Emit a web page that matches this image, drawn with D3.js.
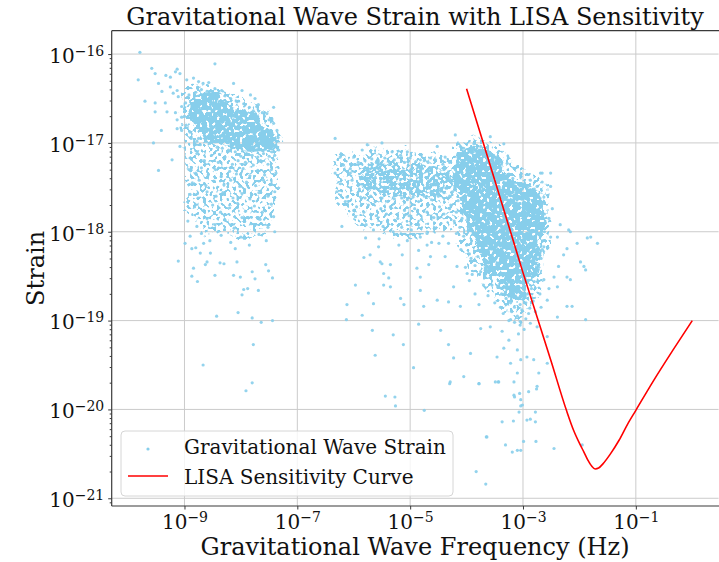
<!DOCTYPE html>
<html>
<head>
<meta charset="utf-8">
<script src="https://cdn.jsdelivr.net/npm/d3@7"></script>
<style>
  body { margin: 0; background: #fff; }
  svg { display: block; font-family: "DejaVu Serif", serif; }
</style>
</head>
<body>
<svg id="chart" width="719" height="562"></svg>
<script>
// All values are log10 exponents: [log10(frequency Hz), log10(strain)]

const xTickExps = [-9, -7, -5, -3, -1];
const yTickExps = [-21, -20, -19, -18, -17, -16];

// pulsar-timing band cloud
const ptaPoints = [
  [-9.79,-15.98],[-9.58,-16.16],[-9.52,-16.22],[-9.82,-16.29],[-9.46,-16.33],[-9.33,-16.24],[-9.25,-16.26],[-9.16,-16.20],
  [-9.08,-16.22],[-9.13,-16.17],[-9.40,-16.42],[-9.25,-16.37],[-9.70,-16.53],[-9.52,-16.55],[-9.34,-16.55],[-9.31,-16.65],
  [-9.16,-16.66],[-9.52,-16.65],[-9.13,-16.74],[-9.41,-16.86],[-9.05,-16.86],[-9.55,-17.00],[-9.22,-17.19],[-9.46,-17.31],
  [-9.13,-16.41],[-9.11,-16.48],[-9.20,-16.44],[-9.05,-16.59],[-9.05,-16.71],[-9.13,-16.84],[-9.08,-17.04],[-8.46,-16.11],
  [-8.96,-16.29],[-8.84,-16.27],[-8.75,-16.31],[-8.67,-16.33],[-8.57,-16.32],[-8.46,-16.39],[-8.34,-16.41],[-8.13,-16.33],
  [-7.98,-16.41],[-7.83,-16.46],[-7.75,-16.50],[-7.69,-16.57],[-7.42,-16.60],[-7.54,-16.67],[-7.72,-16.59],[-7.45,-16.73],
  [-8.98,-16.55],[-8.92,-16.46],[-9.00,-16.70],[-8.97,-16.80],[-8.90,-16.88],[-8.88,-16.95],[-8.78,-16.98],[-8.72,-17.02],
  [-8.80,-16.43],[-8.70,-16.40],[-8.60,-16.42],[-8.50,-16.44],[-8.42,-16.46],[-8.28,-16.47],[-8.18,-16.50],[-8.08,-16.53],
  [-7.95,-16.56],[-7.85,-16.60],[-7.78,-16.64],[-7.62,-16.66],[-7.50,-16.74],[-7.42,-16.78],
  [-7.36,-16.86],[-7.34,-16.94],[-7.38,-17.03],[-7.33,-17.08],[-7.40,-17.14],[-7.45,-17.10],
  [-7.50,-17.15],[-7.60,-17.12],[-7.70,-17.16],[-7.80,-17.14],[-7.90,-17.12],[-8.00,-17.15],[-8.10,-17.10],[-8.22,-17.08],
  [-8.33,-17.06],[-8.42,-17.05],[-8.55,-17.00],[-8.62,-16.98],[-8.75,-16.95],
  [-8.88,-17.18],[-8.78,-17.12],[-8.65,-17.20],[-8.52,-17.14],[-8.40,-17.22],[-8.28,-17.16],[-8.15,-17.24],[-8.05,-17.20],
  [-7.92,-17.22],[-7.78,-17.25],[-7.65,-17.20],[-7.52,-17.24],[-7.42,-17.19],
  [-8.92,-17.30],[-8.80,-17.34],[-8.70,-17.28],[-8.58,-17.36],[-8.45,-17.30],[-8.35,-17.38],[-8.20,-17.32],[-8.08,-17.35],
  [-7.96,-17.29],[-7.84,-17.37],[-7.70,-17.31],[-7.58,-17.36],[-7.46,-17.30],[-7.38,-17.34],
  [-8.86,-17.45],[-8.74,-17.42],[-8.62,-17.48],[-8.48,-17.43],[-8.30,-17.47],[-8.18,-17.42],[-8.02,-17.49],[-7.90,-17.44],
  [-7.74,-17.48],[-7.60,-17.42],[-7.48,-17.47],
  [-8.90,-17.58],[-8.76,-17.62],[-8.60,-17.55],[-8.44,-17.60],[-8.32,-17.56],[-8.14,-17.62],[-7.98,-17.57],[-7.84,-17.63],
  [-7.68,-17.56],[-7.52,-17.60],[-7.40,-17.55],
  [-8.82,-17.72],[-8.66,-17.76],[-8.50,-17.70],[-8.36,-17.78],[-8.20,-17.73],[-8.06,-17.68],[-7.92,-17.77],[-7.76,-17.71],
  [-7.62,-17.78],[-7.46,-17.69],
  [-8.94,-17.88],[-8.78,-17.94],[-8.60,-17.85],[-8.46,-17.92],[-8.28,-17.87],[-8.12,-17.96],[-7.98,-17.84],[-7.82,-17.91],
  [-7.66,-17.86],[-7.52,-17.95],[-7.42,-17.83],
  [-8.90,-18.05],[-8.70,-18.02],[-8.55,-18.10],[-8.35,-18.04],[-8.18,-18.12],[-8.00,-18.06],[-7.85,-18.15],[-7.68,-18.03],
  [-7.55,-18.10],[-7.40,-18.00],[-8.80,-18.18],[-8.10,-18.19],
  [-8.87,-18.19],[-8.72,-18.24],[-8.54,-18.24],[-8.60,-18.34],[-8.37,-18.35],[-8.30,-18.36],[-8.07,-18.34],[-8.13,-18.49],
  [-8.01,-18.51],[-7.75,-18.53],[-7.44,-18.52],[-7.51,-18.44],[-8.87,-18.50],[-8.77,-18.56],[-8.84,-18.41],[-8.46,-18.49],
  [-7.95,-18.65],[-7.88,-18.64],[-7.98,-18.71],[-7.69,-18.66],[-8.63,-18.37],[-7.80,-18.45],[-7.56,-18.37],[-8.66,-18.13],
  [-8.99,-18.13],
  [-8.43,-18.95],[-8.05,-18.91],[-7.80,-18.97],[-7.64,-19.02],[-7.44,-19.00],[-7.78,-19.27],[-8.67,-19.50],[-7.80,-19.70],
  [-7.91,-19.79],[-9.11,-18.33]
];

// mid-band cloud (1e-6 .. 1e-4 Hz)
const midPoints = [
  [-6.33,-16.95],[-5.76,-17.02],[-5.50,-17.00],[-4.20,-16.91],[-4.52,-17.04],[-6.24,-17.16],[-6.00,-17.16],[-5.85,-17.08],
  [-5.32,-17.10],[-5.17,-17.14],[-5.05,-17.10],[-4.82,-17.19],[-4.64,-17.17],[-4.38,-17.16],[-4.11,-17.04],[-3.99,-17.19],
  [-6.33,-17.34],[-6.30,-17.55],[-6.15,-17.66],[-6.21,-17.94],[-5.97,-17.83],[-6.18,-17.25],[-6.06,-17.29],[-6.24,-17.46],
  [-6.03,-17.42],[-6.12,-17.61],[-6.06,-17.34],[-6.00,-17.76],[-5.88,-17.61],
  [-5.92,-17.22],[-5.80,-17.20],[-5.68,-17.18],[-5.60,-17.22],[-5.45,-17.17],[-5.38,-17.21],[-5.28,-17.19],[-5.10,-17.22],
  [-5.00,-17.17],[-4.90,-17.21],[-4.75,-17.20],[-4.68,-17.22],[-4.55,-17.19],[-4.42,-17.24],[-4.30,-17.22],[-4.22,-17.28],
  [-5.90,-17.52],[-5.80,-17.62],[-5.70,-17.60],[-5.62,-17.66],[-5.50,-17.62],[-5.40,-17.66],[-5.28,-17.63],[-5.15,-17.62],
  [-5.05,-17.64],[-4.95,-17.61],[-4.85,-17.66],[-4.75,-17.60],[-4.62,-17.64],[-4.50,-17.60],[-4.40,-17.56],[-4.30,-17.60],
  [-5.95,-17.72],[-5.82,-17.78],[-5.74,-17.70],[-5.60,-17.82],[-5.52,-17.74],[-5.42,-17.80],[-5.35,-17.72],[-5.22,-17.85],
  [-5.10,-17.76],[-5.02,-17.82],[-4.92,-17.74],[-4.80,-17.86],[-4.70,-17.78],[-4.58,-17.84],[-4.48,-17.72],[-4.40,-17.80],
  [-4.30,-17.74],[-5.78,-17.92],[-5.65,-17.98],[-5.48,-17.94],[-5.30,-18.00],[-5.15,-17.95],[-4.98,-17.98],[-4.85,-17.92],
  [-4.70,-18.02],[-4.55,-17.96],[-4.42,-18.05],[-5.55,-18.08],[-5.05,-18.10],[-4.62,-18.12],
  [-5.79,-18.07],[-5.71,-18.26],[-5.82,-18.29],[-5.56,-18.17],[-5.53,-18.34],[-5.35,-18.37],[-5.47,-18.47],[-5.20,-18.15],
  [-5.14,-18.26],[-5.38,-18.52],[-4.82,-18.06],[-4.70,-18.15],[-4.85,-18.21],[-4.64,-18.28],[-4.49,-18.13],[-4.32,-18.13],
  [-4.38,-18.28],[-4.88,-18.41],[-4.67,-18.37],[-4.17,-18.39],[-4.82,-18.51],[-3.99,-18.47],
  [-5.97,-18.60],[-5.74,-18.69],[-6.12,-18.82],[-5.50,-18.36],[-5.47,-18.60],[-5.35,-18.62],[-5.65,-18.81],[-5.17,-18.75],
  [-5.11,-18.82],[-4.82,-18.66],[-4.76,-18.84],[-4.52,-18.77],[-4.32,-18.79],[-4.23,-18.62],[-4.11,-18.84],
  [-5.44,-19.85],[-5.27,-19.86],[-5.26,-19.96],[-4.75,-20.01],[-4.30,-19.71],[-3.78,-19.71],[-3.65,-20.31],[-3.83,-20.70],
  [-3.66,-20.84],[-3.49,-19.69],[-3.44,-19.69],
  [-6.13,-18.99],[-5.85,-18.94],[-5.62,-19.39],[-5.67,-19.11],[-5.30,-19.16],[-5.12,-19.27],[-4.94,-19.53],[-4.46,-19.11],
  [-4.32,-19.27],[-4.85,-19.04]
];

// LISA-band cloud (1e-4 .. 1e-2 Hz)
const lisaPoints = [
  [-3.58,-16.93],[-3.34,-17.01],[-3.87,-17.01],[-4.05,-17.06],[-3.75,-17.04],[-3.52,-17.14],[-3.43,-17.17],[-3.28,-17.23],
  [-3.10,-17.27],[-3.04,-17.38],[-2.87,-17.42],[-2.69,-17.34],[-2.51,-17.34],[-2.51,-17.49],[-2.75,-17.49],[-2.63,-17.61],
  [-2.48,-17.74],[-2.54,-17.85],[-2.34,-17.92],[-2.19,-17.98],[-2.39,-18.06],[-2.04,-18.13],[-1.86,-18.07],[-1.98,-18.34],
  [-2.22,-18.19],[-2.63,-18.17],[-2.51,-18.06],[-2.28,-18.26],[-2.37,-18.39],[-1.92,-18.39],[-2.45,-18.51],[-2.66,-17.34],
  [-2.66,-17.44],
  [-4.40,-17.30],[-4.30,-17.40],[-4.20,-17.30],[-4.12,-17.45],[-4.35,-17.50],[-4.25,-17.55],[-4.15,-17.65],[-4.28,-17.70],
  [-4.18,-17.78],[-4.08,-17.85],[-4.22,-17.88],[-4.12,-17.95],[-4.05,-18.05],[-4.18,-18.02],[-4.00,-18.15],[-3.95,-18.25],
  [-4.10,-18.20],
  [-3.92,-18.30],[-3.85,-18.38],[-3.80,-18.28],[-3.75,-18.45],[-3.68,-18.50],[-3.60,-18.42],[-3.55,-18.60],[-3.45,-18.62],
  [-3.38,-18.70],[-3.30,-18.75],[-3.22,-18.80],[-3.15,-18.85],
  [-2.62,-17.80],[-2.60,-17.90],[-2.62,-18.00],[-2.64,-18.10],[-2.66,-18.20],[-2.68,-18.30],[-2.72,-18.40],[-2.76,-18.48],
  [-2.80,-18.56],[-2.85,-18.64],[-2.92,-18.70],[-3.00,-18.76],[-3.05,-18.82],
  [-4.02,-17.12],[-3.95,-17.08],[-3.88,-17.10],[-3.70,-17.10],[-3.62,-17.12],[-3.48,-17.22],[-3.40,-17.28],[-3.25,-17.35],
  [-3.18,-17.40],[-3.00,-17.48],[-2.92,-17.50],[-2.80,-17.52],[-2.70,-17.62],
  [-3.20,-18.90],[-3.10,-18.95],[-3.02,-18.88],[-2.95,-18.98],[-3.15,-19.02],[-3.05,-19.05],[-2.98,-19.10],[-3.25,-19.00],
  [-2.90,-18.92],[-3.08,-19.15],
  [-3.22,-18.99],[-3.05,-19.01],[-2.87,-19.03],[-2.75,-19.07],[-3.75,-19.09],[-3.58,-19.07],[-3.37,-19.12],[-3.25,-19.22],
  [-3.10,-19.33],[-3.04,-19.44],[-2.93,-19.41],[-2.81,-19.44],[-2.72,-19.59],[-3.10,-19.59],[-3.16,-19.69],[-3.04,-19.89],
  [-2.75,-19.74],[-3.46,-19.41],[-3.34,-19.31],[-3.22,-19.48],[-3.93,-19.37],[-4.23,-19.42],[-4.29,-19.69],[-4.05,-19.63],
  [-3.78,-19.71],[-3.43,-19.69],[-2.57,-19.48],[-2.57,-19.18],[-2.90,-19.80],[-3.07,-20.03],[-3.01,-19.95],[-3.37,-20.14],
  [-2.93,-20.12],[-2.78,-20.14],[-3.64,-20.31],[-3.31,-20.40],[-3.19,-20.48],[-2.99,-20.36],[-2.45,-20.44],[-3.10,-20.46],
  [-3.04,-20.46],
  [-3.16,-19.84],[-3.06,-19.82],[-3.15,-19.86],[-3.04,-19.96],[-2.87,-20.11],[-2.78,-20.03],[-3.17,-20.13],[-2.77,-20.36],
  [-1.95,-20.40],[-2.76,-19.77],
  [-2.16,-18.00],[-1.80,-18.06],[-1.68,-18.13],[-1.89,-18.43],[-2.22,-18.51],[-2.16,-18.54],[-2.39,-18.62],[-2.22,-18.84],
  [-2.13,-18.84],[-2.39,-18.96],[-1.89,-18.99],[-2.54,-18.64],[-2.57,-18.77],[-2.63,-18.54],
  [-3.70,-18.60],[-3.62,-18.72],[-3.50,-18.80],[-3.40,-18.85],[-3.35,-18.92],[-3.30,-18.82],[-2.95,-18.80],[-2.88,-18.86],
  [-2.82,-18.78],[-2.78,-18.90],[-3.85,-18.70],[-3.78,-18.82],[-3.95,-18.55],[-4.02,-18.40],[-3.90,-18.48],[-2.70,-18.70],
  [-2.68,-18.85]
];

// outlines of where the dots pile up: halo = medium density, core = nearly solid
const ptaHalo = [
  [-9.02,-16.45],[-8.85,-16.33],[-8.60,-16.36],[-8.30,-16.42],[-8.00,-16.50],[-7.70,-16.58],[-7.45,-16.72],[-7.33,-16.90],
  [-7.35,-17.30],[-7.38,-17.70],[-7.45,-18.00],[-7.80,-18.10],[-8.30,-18.05],[-8.70,-18.00],[-8.95,-17.80],[-8.98,-17.30],
  [-9.03,-16.90]
];
const ptaCore = [
  [-8.90,-16.52],[-8.63,-16.46],[-8.33,-16.51],[-8.01,-16.59],[-7.69,-16.69],[-7.44,-16.83],[-7.41,-16.99],
  [-7.55,-17.08],[-7.83,-17.10],[-8.15,-17.06],[-8.46,-17.00],[-8.67,-16.91],[-8.85,-16.77],[-8.95,-16.63]
];
const midHalo = [
  [-6.30,-17.10],[-5.90,-17.10],[-5.50,-17.05],[-5.00,-17.10],[-4.50,-17.12],[-4.20,-17.15],[-4.15,-17.60],[-4.30,-17.95],
  [-4.80,-18.05],[-5.30,-18.05],[-5.80,-17.95],[-6.20,-17.75],[-6.35,-17.40]
];
const midCore = [
  [-5.88,-17.28],[-5.53,-17.23],[-5.17,-17.26],[-4.82,-17.24],[-4.46,-17.28],[-4.25,-17.36],
  [-4.29,-17.53],[-4.64,-17.59],[-5.00,-17.58],[-5.35,-17.60],[-5.71,-17.56],[-5.88,-17.45]
];
const lisaHalo = [
  [-4.20,-17.00],[-3.90,-16.95],[-3.60,-16.98],[-3.30,-17.15],[-3.00,-17.30],[-2.60,-17.40],[-2.55,-17.70],[-2.55,-18.20],
  [-2.65,-18.55],[-2.85,-18.85],[-3.10,-19.00],[-3.35,-18.90],[-3.60,-18.70],[-3.90,-18.45],[-4.10,-18.15],[-4.25,-17.70],
  [-4.30,-17.30]
];
const lisaCore = [
  [-4.07,-17.08],[-3.79,-17.05],[-3.54,-17.14],[-3.31,-17.31],[-3.04,-17.45],[-2.72,-17.53],[-2.65,-17.70],
  [-2.67,-17.98],[-2.74,-18.32],[-2.90,-18.60],[-3.13,-18.77],[-3.31,-18.68],[-3.49,-18.54],[-3.72,-18.37],
  [-3.86,-18.15],[-3.97,-17.92],[-4.11,-17.70],[-4.20,-17.47],[-4.18,-17.25]
];

// LISA sensitivity curve
const lisaCurve = [
  [-4.00,-16.39],[-3.50,-17.42],[-3.00,-18.46],[-2.50,-19.46],[-2.23,-20.01],[-2.10,-20.24],[-2.00,-20.38],
  [-1.92,-20.48],[-1.85,-20.57],[-1.78,-20.64],[-1.72,-20.67],[-1.66,-20.66],[-1.58,-20.61],[-1.45,-20.50],
  [-1.30,-20.35],[-1.15,-20.17],[-1.00,-20.01],[-0.68,-19.67],[-0.34,-19.33],[0.00,-19.00]
];

const p = v => Math.pow(10, v);

const plot = { left: 111.7, right: 718.6, top: 30.7, bottom: 506 };
const svg = d3.select('#chart');
svg.append('rect').attr('width', 719).attr('height', 562).attr('fill', '#fff');

const x = d3.scaleLog().domain([p(-10.29), p(0.467)]).range([plot.left, plot.right]);
const y = d3.scaleLog().domain([p(-21.087), p(-15.737)]).range([plot.bottom, plot.top]);

const defs = svg.append('defs');
defs.append('clipPath').attr('id', 'clip').append('rect')
  .attr('x', plot.left).attr('y', plot.top)
  .attr('width', plot.right - plot.left).attr('height', plot.bottom - plot.top);

// speckle texture so the piled-up dots read as dots, not a flat patch
function speckle(id, threshold, seed) {
  const f = defs.append('filter').attr('id', id)
    .attr('x', '-20%').attr('y', '-20%').attr('width', '140%').attr('height', '140%');
  f.append('feTurbulence').attr('type', 'fractalNoise').attr('baseFrequency', 0.06)
    .attr('numOctaves', 2).attr('seed', seed).attr('result', 'warp');
  f.append('feDisplacementMap').attr('in', 'SourceGraphic').attr('in2', 'warp')
    .attr('scale', 18).attr('xChannelSelector', 'R').attr('yChannelSelector', 'G').attr('result', 'shape');
  f.append('feTurbulence').attr('type', 'fractalNoise').attr('baseFrequency', 0.3)
    .attr('numOctaves', 1).attr('seed', seed + 7).attr('result', 'noise');
  f.append('feColorMatrix').attr('in', 'noise').attr('type', 'matrix')
    .attr('values', `0 0 0 0 0  0 0 0 0 0  0 0 0 0 0  18 0 0 0 ${-18 * threshold}`)
    .attr('result', 'mask');
  f.append('feComposite').attr('in', 'shape').attr('in2', 'mask').attr('operator', 'in');
}
speckle('speckleHalo', 0.53, 3);
speckle('speckleMid', 0.46, 5);
speckle('speckleCore', 0.36, 11);

// grid
const grid = svg.append('g').attr('stroke', '#cbcbcb').attr('stroke-width', 1);
xTickExps.forEach(e => {
  grid.append('line').attr('x1', x(p(e))).attr('x2', x(p(e)))
    .attr('y1', plot.top).attr('y2', plot.bottom);
});
yTickExps.forEach(e => {
  grid.append('line').attr('y1', y(p(e))).attr('y2', y(p(e)))
    .attr('x1', plot.left).attr('x2', plot.right);
});

const chart = svg.append('g').attr('clip-path', 'url(#clip)');
const dotColor = '#87ceeb';

const areaLine = d3.line()
  .x(d => x(p(d[0])))
  .y(d => y(p(d[1])))
  .curve(d3.curveCatmullRomClosed);

chart.append('g').attr('filter', 'url(#speckleHalo)')
  .selectAll('path')
  .data([ptaHalo, midHalo, lisaHalo])
  .join('path')
  .attr('d', areaLine)
  .attr('fill', dotColor);

chart.append('g').attr('filter', 'url(#speckleMid)')
  .append('path')
  .attr('d', areaLine(midCore))
  .attr('fill', dotColor);

chart.append('g').attr('filter', 'url(#speckleCore)')
  .selectAll('path')
  .data([ptaCore, lisaCore])
  .join('path')
  .attr('d', areaLine)
  .attr('fill', dotColor);

// scatter
chart.selectAll('.dot')
  .data([...ptaPoints, ...midPoints, ...lisaPoints])
  .join('circle')
  .attr('class', 'dot')
  .attr('cx', d => x(p(d[0])))
  .attr('cy', d => y(p(d[1])))
  .attr('r', 1.6)
  .attr('fill', dotColor)
  .attr('opacity', 0.9);

// sensitivity curve
const curveLine = d3.line()
  .x(d => x(p(d[0])))
  .y(d => y(p(d[1])))
  .curve(d3.curveMonotoneX);
chart.append('path')
  .datum(lisaCurve)
  .attr('d', curveLine)
  .attr('fill', 'none')
  .attr('stroke', '#ff0000')
  .attr('stroke-width', 1.6);

// spines
const spine = svg.append('g').attr('stroke', '#3a3a3a').attr('stroke-width', 1.2);
spine.append('line').attr('x1', plot.left).attr('x2', plot.left).attr('y1', plot.top).attr('y2', plot.bottom);
spine.append('line').attr('x1', plot.left).attr('x2', 719).attr('y1', plot.bottom).attr('y2', plot.bottom);
spine.append('line').attr('x1', plot.left).attr('x2', 719).attr('y1', plot.top).attr('y2', plot.top);

// axes
const xAxisG = svg.append('g')
  .attr('transform', `translate(0,${plot.bottom})`)
  .call(d3.axisBottom(x).tickValues(xTickExps.map(p)).tickSize(3.5).tickSizeOuter(0).tickFormat(() => ''));

const yMinor = [];
for (let e = -22; e <= -16; e++) {
  for (let k = 2; k <= 9; k++) {
    const v = k * p(e);
    if (v > y.domain()[0] && v < y.domain()[1]) yMinor.push(v);
  }
}
svg.append('g')
  .attr('transform', `translate(${plot.left},0)`)
  .call(d3.axisLeft(y).tickValues(yMinor).tickSize(2).tickSizeOuter(0).tickFormat(() => ''))
  .call(g => g.select('.domain').remove());
const yAxisG = svg.append('g')
  .attr('transform', `translate(${plot.left},0)`)
  .call(d3.axisLeft(y).tickValues(yTickExps.map(p)).tickSize(3.5).tickSizeOuter(0).tickFormat(() => ''));

xAxisG.select('.domain').remove();
yAxisG.select('.domain').remove();
svg.selectAll('.tick line').attr('stroke', '#3a3a3a');

function powerLabel(sel, e) {
  sel.append('tspan').text('10');
  sel.append('tspan').attr('dy', -7).attr('font-size', 14).text('\u2212' + Math.abs(e));
}

xAxisG.selectAll('.tick').each(function (d) {
  const t = d3.select(this).append('text')
    .attr('y', 22.5)
    .attr('fill', '#111')
    .attr('font-size', 20)
    .attr('text-anchor', 'middle')
    .attr('font-family', '"DejaVu Serif", serif');
  powerLabel(t, Math.round(Math.log10(d)));
});
yAxisG.selectAll('.tick').each(function (d) {
  const t = d3.select(this).append('text')
    .attr('x', -7.5)
    .attr('y', 8.3)
    .attr('fill', '#111')
    .attr('font-size', 20)
    .attr('text-anchor', 'end')
    .attr('font-family', '"DejaVu Serif", serif');
  powerLabel(t, Math.round(Math.log10(d)));
});

// titles
svg.append('text')
  .attr('x', 415).attr('y', 25)
  .attr('text-anchor', 'middle')
  .attr('font-size', 24)
  .attr('fill', '#111')
  .text('Gravitational Wave Strain with LISA Sensitivity');

svg.append('text')
  .attr('x', 415).attr('y', 555)
  .attr('text-anchor', 'middle')
  .attr('font-size', 24)
  .attr('fill', '#111')
  .text('Gravitational Wave Frequency (Hz)');

svg.append('text')
  .attr('transform', 'translate(43.5,268.4) rotate(-90)')
  .attr('text-anchor', 'middle')
  .attr('font-size', 24)
  .attr('fill', '#111')
  .text('Strain');

// legend
const legend = svg.append('g');
legend.append('rect')
  .attr('x', 121).attr('y', 431).attr('width', 332).attr('height', 65).attr('rx', 4)
  .attr('fill', '#fff').attr('fill-opacity', 0.8)
  .attr('stroke', '#d6d6d6').attr('stroke-width', 1);
legend.append('circle').attr('cx', 148).attr('cy', 449).attr('r', 1.6).attr('fill', dotColor);
legend.append('text').attr('x', 184).attr('y', 454).attr('font-size', 20).attr('fill', '#111')
  .text('Gravitational Wave Strain');
legend.append('line').attr('x1', 128).attr('x2', 168).attr('y1', 476).attr('y2', 476)
  .attr('stroke', '#ff0000').attr('stroke-width', 1.6);
legend.append('text').attr('x', 184).attr('y', 484).attr('font-size', 20).attr('fill', '#111')
  .text('LISA Sensitivity Curve');
</script>
</body>
</html>
